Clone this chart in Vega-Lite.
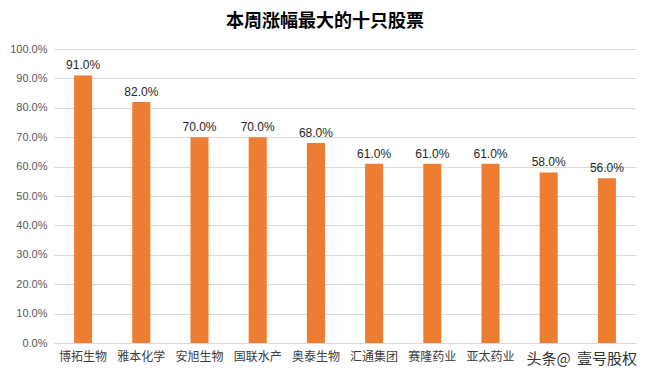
{
  "$schema": "https://vega.github.io/schema/vega-lite/v6.json",
  "autosize": {"type": "none"},
  "width": 582,
  "height": 294,
  "padding": {"left": 54, "top": 49, "right": 13, "bottom": 35},
  "background": "white",
  "title": {
    "text": "本周涨幅最大的十只股票",
    "font": "Noto Sans CJK SC",
    "fontSize": 18,
    "fontWeight": "bold",
    "color": "#000000",
    "anchor": "middle",
    "dx": -20,
    "offset": 12
  },
  "data": {
    "values": [
      {"stock": "博拓生物", "gain": 0.91},
      {"stock": "雅本化学", "gain": 0.82},
      {"stock": "安旭生物", "gain": 0.70},
      {"stock": "国联水产", "gain": 0.70},
      {"stock": "奥泰生物", "gain": 0.68},
      {"stock": "汇通集团", "gain": 0.61},
      {"stock": "赛隆药业", "gain": 0.61},
      {"stock": "亚太药业", "gain": 0.61},
      {"stock": "头条@", "gain": 0.58},
      {"stock": "壹号股权", "gain": 0.56}
    ]
  },
  "encoding": {
    "x": {
      "field": "stock",
      "type": "nominal",
      "sort": null,
      "scale": {"paddingInner": 0.69, "paddingOuter": 0.345},
      "axis": {
        "title": null,
        "labelAngle": 0,
        "labelFont": "Noto Sans CJK SC",
        "labelFontSize": {"condition": {"test": "indexof(['头条@', '壹号股权'], datum.value) >= 0", "value": 15}, "value": 12},
        "labelColor": {"condition": {"test": "indexof(['头条@', '壹号股权'], datum.value) >= 0", "value": "#333333"}, "value": "#404040"},
        "labelPadding": 8,
        "ticks": false,
        "domain": true,
        "domainColor": "#d9d9d9"
      }
    },
    "y": {
      "field": "gain",
      "type": "quantitative",
      "scale": {"domain": [0, 1]},
      "axis": {
        "title": null,
        "values": [0, 0.1, 0.2, 0.3, 0.4, 0.5, 0.6, 0.7, 0.8, 0.9, 1.0],
        "format": ".1%",
        "labelFont": "Liberation Sans",
        "labelFontSize": 11,
        "labelColor": "#595959",
        "labelPadding": 7,
        "ticks": false,
        "domain": false,
        "grid": true,
        "gridColor": "#d9d9d9"
      }
    }
  },
  "layer": [
    {"mark": {"type": "bar", "color": "#ED7D31"}},
    {
      "mark": {"type": "text", "dy": -10, "font": "Liberation Sans", "fontSize": 12, "color": "#262626"},
      "encoding": {"text": {"field": "gain", "type": "quantitative", "format": ".1%"}}
    }
  ],
  "config": {"view": {"stroke": null}}
}
